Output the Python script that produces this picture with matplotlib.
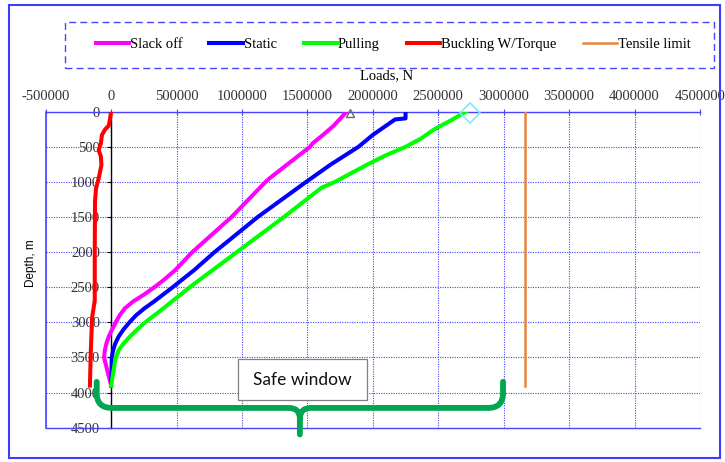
import numpy as np
import matplotlib.pyplot as plt
from matplotlib.patches import Rectangle, PathPatch
from matplotlib.path import Path

plt.rcParams['font.family'] = ['Liberation Serif', 'DejaVu Serif']
plt.rcParams['font.size'] = 10.5

# hook load vs. measured depth (m, N)
slack_depth = [0, 200, 330, 450, 500, 760, 950, 1000, 1500, 2000, 2255, 2400,
               2500, 2600, 2700, 2800, 2900, 3000, 3100, 3200, 3300, 3400,
               3500, 3900]
slack_load = [1.80e6, 1.70e6, 1.62e6, 1.54e6, 1.52e6, 1.34e6, 1.21e6, 1.18e6,
              0.92e6, 0.62e6, 0.49e6, 0.40e6, 0.33e6, 0.255e6, 0.17e6,
              0.105e6, 0.065e6, 0.035e6, 0.008e6, -0.018e6, -0.036e6,
              -0.048e6, -0.054e6, 0.0]

static_depth = [0, 95, 110, 330, 500, 750, 1000, 1500, 2000, 2255, 2500, 2600,
                2700, 2800, 2900, 3000, 3100, 3200, 3300, 3400, 3500, 3900]
static_load = [2.25e6, 2.25e6, 2.17e6, 2.00e6, 1.89e6, 1.68e6, 1.49e6, 1.12e6,
               0.79e6, 0.635e6, 0.47e6, 0.40e6, 0.33e6, 0.255e6, 0.19e6,
               0.14e6, 0.095e6, 0.058e6, 0.032e6, 0.015e6, 0.005e6, 0.0]

pull_depth = [0, 120, 250, 380, 500, 620, 750, 1000, 1080, 1500, 2000, 2500,
              2600, 2700, 2800, 2900, 3000, 3100, 3200, 3300, 3400, 3500, 3900]
pull_load = [2.71e6, 2.60e6, 2.47e6, 2.37e6, 2.25e6, 2.10e6, 1.96e6, 1.71e6,
             1.61e6, 1.32e6, 0.96e6, 0.60e6, 0.535e6, 0.465e6, 0.40e6,
             0.33e6, 0.26e6, 0.20e6, 0.145e6, 0.095e6, 0.057e6, 0.035e6, 0.0]

buckle_depth = [0, 100, 200, 250, 330, 450, 545, 640, 760, 950, 1090, 1280,
                2000, 2690, 2930, 3400, 3900]
buckle_load = [0.0, -0.008e6, -0.018e6, -0.045e6, -0.070e6, -0.078e6,
               -0.095e6, -0.078e6, -0.074e6, -0.095e6, -0.115e6, -0.123e6,
               -0.125e6, -0.125e6, -0.145e6, -0.155e6, -0.162e6]

tensile_depth = [0, 3900]
tensile_load = [3.16e6, 3.16e6]

# surface loads flagged on the chart
slack_top = (1.827e6, 20)
pull_top = (2.74e6, 20)

# load range between buckling and tensile limit
safe_window = (-0.11e6, 2.995e6)

x_ticks = np.arange(-500000, 4500001, 500000)
y_ticks = np.arange(0, 4501, 500)

grid_blue = '#4646ff'

fig = plt.figure(figsize=(7.25, 4.62), dpi=100)
ax = fig.add_axes([0.0630, 0.0742, 0.9025, 0.684])

ax.set_xlim(-500000, 4500000)
ax.set_ylim(4500, 0)
ax.set_xticks(x_ticks)
ax.set_xticklabels([str(int(v)) for v in x_ticks])
ax.set_yticks(y_ticks)
ax.set_yticklabels([str(v) for v in y_ticks])

ax.xaxis.tick_top()
ax.tick_params(axis='x', direction='inout', length=5, color=grid_blue,
               pad=4, labelcolor='#333333')
ax.tick_params(axis='y', direction='out', length=3, color='black',
               pad=5, labelcolor='#333333')

ax.spines['left'].set_position(('data', 0))
ax.spines['left'].set_color('black')
ax.spines['left'].set_linewidth(1)
ax.spines['right'].set_visible(False)
for side in ('top', 'bottom'):
    ax.spines[side].set_color(grid_blue)
    ax.spines[side].set_linewidth(1)
ax.axvline(-500000, color=grid_blue, lw=1.2, clip_on=False)

ax.grid(True, color=grid_blue, linestyle=(0, (1, 1.2)), lw=0.8)
ax.set_axisbelow(True)

ax.set_xlabel('Loads, N', fontsize=10.5)
ax.xaxis.set_label_position('top')
ax.xaxis.set_label_coords(0.5216, 1.103)
ax.set_ylabel('Depth, m', family='Liberation Sans', fontsize=8.5)
ax.yaxis.set_label_coords(-0.0135, 0.521)

lines = []
lines += ax.plot(slack_load, slack_depth, color='#ff00ff', lw=2.9,
                 label='Slack off', zorder=4)
lines += ax.plot(static_load, static_depth, color='#0000ff', lw=2.9,
                 label='Static', zorder=4)
lines += ax.plot(pull_load, pull_depth, color='#00ff00', lw=2.9,
                 label='Pulling', zorder=4)
lines += ax.plot(buckle_load, buckle_depth, color='#ff0000', lw=2.9,
                 label='Buckling W/Torque', zorder=4)
lines += ax.plot(tensile_load, tensile_depth, color='#e8853d', lw=1.8,
                 label='Tensile limit', zorder=4)

ax.plot(*slack_top, marker='^', ms=6, mfc='none', mec='#666666', mew=1,
        zorder=5, clip_on=False)
ax.plot(*pull_top, marker='D', ms=10, mfc='none', mec='#7fe8ff', mew=1.2,
        zorder=5, clip_on=False)

# curly brace under the safe load window
x0, x1 = safe_window
xm = (x0 + x1) / 2
y_top, y_bar, y_tip = 3847, 4218, 4595
rx, ry = 115000, 210
crx, cry = 85000, 150
verts = [(x0, y_top), (x0, y_bar - ry), (x0, y_bar), (x0 + rx, y_bar),
         (xm - crx, y_bar), (xm, y_bar), (xm, y_bar + cry), (xm, y_tip),
         (xm, y_bar + cry), (xm, y_bar), (xm + crx, y_bar),
         (x1 - rx, y_bar), (x1, y_bar), (x1, y_bar - ry), (x1, y_top)]
codes = [Path.MOVETO, Path.LINETO, Path.CURVE3, Path.CURVE3,
         Path.LINETO, Path.CURVE3, Path.CURVE3, Path.LINETO,
         Path.MOVETO, Path.CURVE3, Path.CURVE3,
         Path.LINETO, Path.CURVE3, Path.CURVE3, Path.LINETO]
brace = PathPatch(Path(verts, codes), fill=False, edgecolor='#00a650', lw=4.2,
                  capstyle='round', joinstyle='round', zorder=6, clip_on=False)
ax.add_patch(brace)

box_w, box_h = 986000, 584
box_x = xm + 20000
ax.add_patch(Rectangle((box_x - box_w / 2, 3524), box_w, box_h,
                       facecolor='white', edgecolor='#808080', lw=0.9,
                       zorder=7))
ax.text(box_x, 3524 + box_h / 2, 'Safe window', family='Lato', fontsize=12.5,
        ha='center', va='center', color='#111111', zorder=8)

# legend in a dashed frame above the axis title
fig.add_artist(Rectangle((65 / 725, 1 - 68 / 462), 649 / 725, 46 / 462,
                         transform=fig.transFigure, fill=False,
                         edgecolor=grid_blue, lw=1, linestyle=(0, (5, 3))))
fig.legend(handles=lines, loc='center', bbox_to_anchor=(393 / 725, 1 - 44 / 462),
           ncol=5, frameon=False, handlelength=2.3, handletextpad=0.05,
           columnspacing=1.85, fontsize=10.5)

fig.add_artist(Rectangle((8.5 / 725, 4 / 462), 711 / 725, 453 / 462,
                         transform=fig.transFigure, fill=False,
                         edgecolor='#3c3cff', lw=1.5))

fig.savefig('out.png', dpi=100)
